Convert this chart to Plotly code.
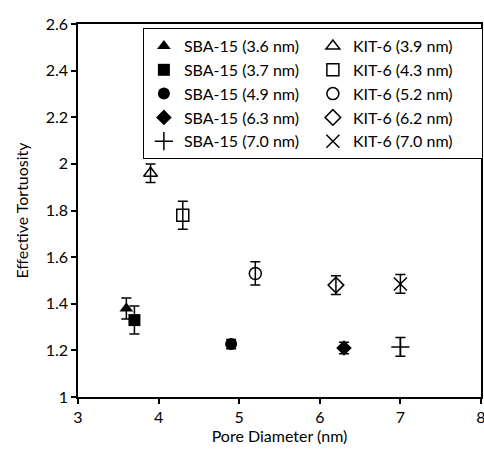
import plotly.graph_objects as go

# Pore diameter (nm), effective tortuosity and its error for each sample
sba_labels = ["SBA-15 (3.6 nm)", "SBA-15 (3.7 nm)", "SBA-15 (4.9 nm)", "SBA-15 (6.3 nm)", "SBA-15 (7.0 nm)"]
sba_diameter = [3.6, 3.7, 4.9, 6.3, 7.0]
sba_tortuosity = [1.38, 1.33, 1.227, 1.21, 1.215]
sba_error = [0.045, 0.06, 0.02, 0.025, 0.04]
sba_symbols = ["triangle-up", "square", "circle", "diamond", "cross-thin"]

kit_labels = ["KIT-6 (3.9 nm)", "KIT-6 (4.3 nm)", "KIT-6 (5.2 nm)", "KIT-6 (6.2 nm)", "KIT-6 (7.0 nm)"]
kit_diameter = [3.9, 4.3, 5.2, 6.2, 7.0]
kit_tortuosity = [1.96, 1.78, 1.53, 1.48, 1.485]
kit_error = [0.04, 0.06, 0.05, 0.04, 0.04]
kit_symbols = ["triangle-up-open", "square-open", "circle-open", "diamond-open", "x-thin"]

x_ticks = [3, 4, 5, 6, 7, 8]
y_ticks = [1, 1.2, 1.4, 1.6, 1.8, 2, 2.2, 2.4, 2.6]

FONT = "Lato"


def point_trace(label, x, y, err, symbol):
    thin = symbol.endswith("-thin")
    open_ = symbol.endswith("-open")
    size = 13 if thin else 12
    return go.Scatter(
        x=[x], y=[y], name=label, mode="markers",
        marker=dict(symbol=symbol, size=size, color="black",
                    line=dict(color="black", width=1.5 if (thin or open_) else 0)),
        error_y=dict(type="data", array=[err], visible=True,
                     color="black", thickness=1.5, width=5),
    )


fig = go.Figure()
# Interleave so the horizontal legend wraps into an SBA-15 column and a KIT-6 column
for i in range(len(sba_labels)):
    fig.add_trace(point_trace(sba_labels[i], sba_diameter[i], sba_tortuosity[i], sba_error[i], sba_symbols[i]))
    fig.add_trace(point_trace(kit_labels[i], kit_diameter[i], kit_tortuosity[i], kit_error[i], kit_symbols[i]))

axis_common = dict(
    showgrid=False, zeroline=False, showline=True, linecolor="black", linewidth=1.5,
    mirror=True, ticks="outside", ticklen=5, tickwidth=1.5, tickcolor="black",
    tickfont=dict(family=FONT, size=16, color="black"), automargin=False,
    ticklabeloverflow="allow",
)

fig.update_layout(
    width=484, height=451,
    margin=dict(l=78, r=3, t=24, b=54, autoexpand=False),
    paper_bgcolor="white", plot_bgcolor="white",
    font=dict(family=FONT, color="black"),
    showlegend=True,
    legend=dict(
        orientation="h", entrywidth=124, entrywidthmode="pixels",
        x=0.161, y=0.989, xanchor="left", yanchor="top",
        bordercolor="black", borderwidth=1, bgcolor="white",
        font=dict(family=FONT, size=16, color="black"),
        itemwidth=30, tracegroupgap=0,
    ),
    xaxis=dict(range=[3, 8], tickvals=x_ticks, ticktext=[str(v) for v in x_ticks],
               title=dict(text="Pore Diameter (nm)", standoff=2,
                          font=dict(family=FONT, size=16, color="black")),
               **axis_common),
    yaxis=dict(range=[1, 2.6], tickvals=y_ticks, ticktext=[f"{v:g}" for v in y_ticks],
               title=dict(text="Effective Tortuosity", standoff=13,
                          font=dict(family=FONT, size=16, color="black")),
               **axis_common),
)

fig.write_html("out.html")
